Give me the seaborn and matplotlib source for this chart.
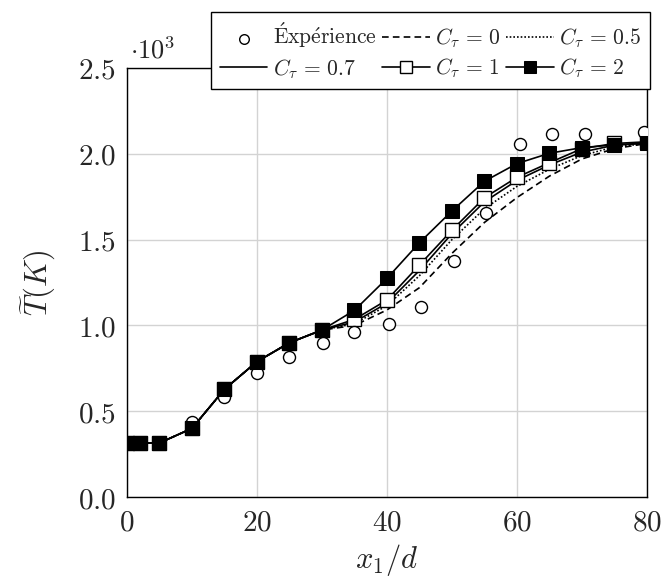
import matplotlib
matplotlib.use("Agg")
import matplotlib.pyplot as plt
import seaborn as sns
import pandas as pd

# Données (température en 10^3 K)
x_sim = [0, 2, 5, 10, 15, 20, 25, 30, 35, 40, 45, 50, 55, 60, 65, 70, 75, 80]
t_c0 = [0.315, 0.315, 0.315, 0.40, 0.628, 0.789, 0.899, 0.973, 1.00, 1.09, 1.22, 1.42, 1.60, 1.745, 1.87, 1.97, 2.03, 2.06]
t_c05 = [0.315, 0.315, 0.315, 0.40, 0.628, 0.789, 0.899, 0.973, 1.01, 1.115, 1.29, 1.50, 1.68, 1.81, 1.91, 1.99, 2.04, 2.06]
t_c07 = [0.315, 0.315, 0.315, 0.40, 0.628, 0.789, 0.899, 0.973, 1.02, 1.13, 1.32, 1.535, 1.72, 1.845, 1.935, 2.01, 2.05, 2.065]
t_c1 = [0.315, 0.315, 0.315, 0.40, 0.628, 0.789, 0.899, 0.973, 1.035, 1.148, 1.352, 1.555, 1.744, 1.863, 1.948, 2.03, 2.06, 2.07]
t_c2 = [0.315, 0.315, 0.315, 0.40, 0.628, 0.789, 0.899, 0.973, 1.088, 1.274, 1.482, 1.667, 1.84, 1.943, 2.003, 2.036, 2.052, 2.06]

x_exp = [10, 15, 20, 25, 30.2, 35, 40.3, 45.3, 50.3, 55.3, 60.5, 65.4, 70.5, 79.5]
t_exp = [0.439, 0.581, 0.724, 0.818, 0.896, 0.96, 1.008, 1.109, 1.375, 1.657, 2.055, 2.113, 2.117, 2.127]

xticks = [0, 20, 40, 60, 80]
yticks = [0.0, 0.5, 1.0, 1.5, 2.0, 2.5]

sns.set_style("whitegrid")
plt.rcParams["mathtext.fontset"] = "cm"
plt.rcParams["font.family"] = ["DejaVu Serif"]

fig = plt.figure(figsize=(6.62, 5.85), dpi=100)
ax = fig.add_axes([0.1918, 0.1504, 0.7855, 0.7334])

df_exp = pd.DataFrame({"x": x_exp, "T": t_exp})
sns.scatterplot(data=df_exp, x="x", y="T", ax=ax, marker="o", s=75,
                facecolor="white", edgecolor="black", linewidth=1.0,
                label=r"$\mathrm{\acute{E}xp\acute{e}rience}$", zorder=5)

lw = 1.2
sns.lineplot(x=x_sim, y=t_c0, ax=ax, color="black", lw=lw,
             linestyle=(0, (4, 2.5)), label=r"$C_\tau \,=\, 0$")
sns.lineplot(x=x_sim, y=t_c05, ax=ax, color="black", lw=lw, linestyle=(0, (1, 1.2)),
             label=r"$C_\tau \,=\, 0.5$")
sns.lineplot(x=x_sim, y=t_c07, ax=ax, color="black", lw=lw, label=r"$C_\tau \,=\, 0.7$")
sns.lineplot(x=x_sim, y=t_c1, ax=ax, color="black", lw=lw, marker="s", markersize=10,
             markerfacecolor="white", markeredgecolor="black", markeredgewidth=1.0,
             label=r"$C_\tau \,=\, 1$", zorder=4)
sns.lineplot(x=x_sim, y=t_c2, ax=ax, color="black", lw=lw, marker="s", markersize=10,
             markerfacecolor="black", markeredgecolor="black",
             label=r"$C_\tau \,=\, 2$", zorder=6)

ax.set_xlim(0, 80)
ax.set_ylim(0, 2.5)
ax.set_xticks(xticks)
ax.set_xticklabels([f"${v}$" for v in xticks], fontsize=21)
ax.set_yticks(yticks)
ax.set_yticklabels([f"${v:.1f}$" for v in yticks], fontsize=21)
ax.tick_params(axis="both", direction="in", length=6, color="#b0b0b0", pad=8)
ax.grid(True, color="#d3d3d3", lw=1.0)
for sp in ax.spines.values():
    sp.set_color("black")
    sp.set_linewidth(1.0)

ax.set_xlabel(r"$x_1/d$", fontsize=22, labelpad=4)
ax.set_ylabel(r"$\widetilde{T}(K)$", fontsize=22, labelpad=14)
ax.text(0.005, 1.01, r"$\cdot 10^3$", transform=ax.transAxes, fontsize=19,
        ha="left", va="bottom")

h, l = ax.get_legend_handles_labels()
ax.get_legend().remove()
order = [0, 3, 1, 4, 2, 5]
leg = fig.legend([h[i] for i in order], [l[i] for i in order], ncol=3,
                 loc="upper right", bbox_to_anchor=(0.998, 0.998), fontsize=15.5,
                 frameon=True, fancybox=False, edgecolor="black", framealpha=1,
                 handlelength=2.2, handletextpad=0.25, columnspacing=0.25,
                 borderpad=0.4, labelspacing=0.3, markerscale=0.8)
leg.get_frame().set_linewidth(1.0)

fig.savefig("out.png", dpi=100)
